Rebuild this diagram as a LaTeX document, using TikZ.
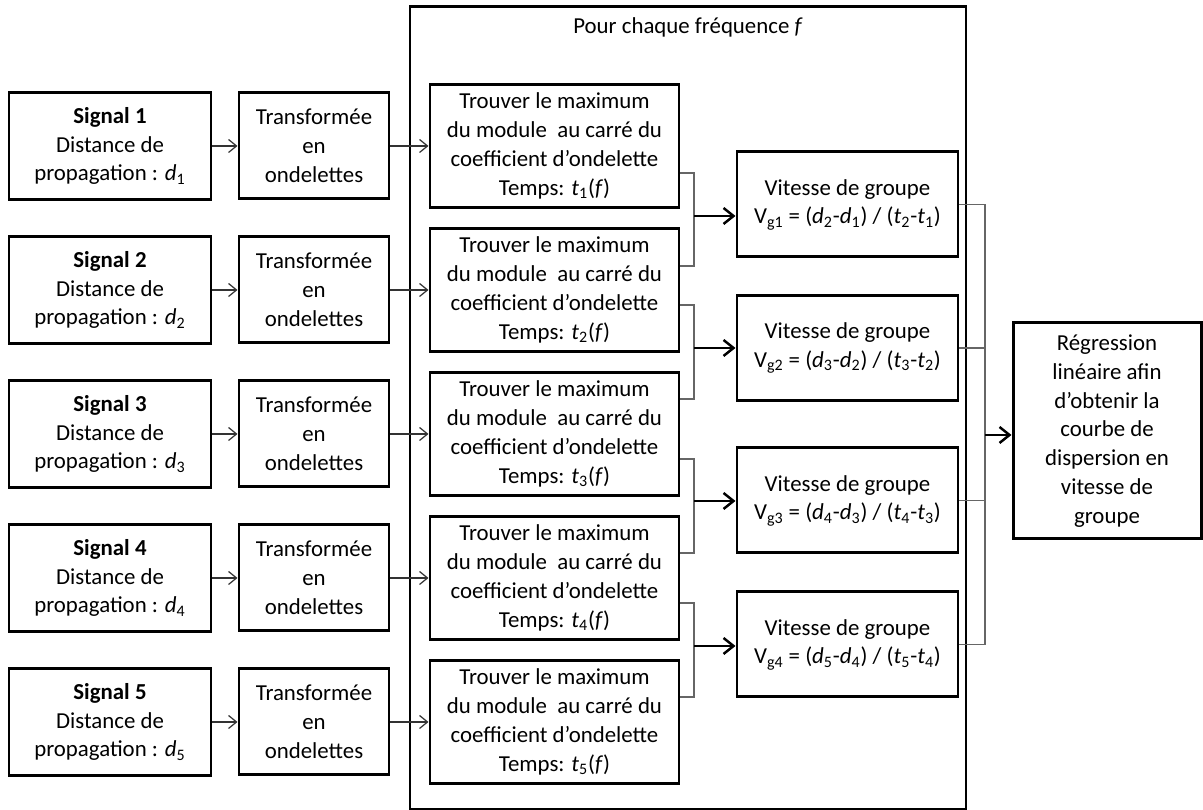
\documentclass[tikz,border=0pt]{standalone}
\usepackage{fontspec}
\setmainfont{Carlito}
\usetikzlibrary{arrows.meta,positioning,calc}

\begin{document}
\begin{tikzpicture}[
  font=\fontsize{13}{16.4}\selectfont,
  box/.style={draw, line width=1.7pt, align=center, inner sep=2pt},
  signalbox/.style={box, minimum width=4.04cm, minimum height=2.14cm},
  wavebox/.style={box, minimum width=3.0cm, minimum height=2.12cm},
  findbox/.style={box, minimum width=4.98cm, minimum height=2.46cm},
  speedbox/.style={box, minimum width=4.42cm, minimum height=2.1cm},
  thinarr/.style={draw=black!80, line width=0.7pt, -{Straight Barb[length=1.6mm,width=2.6mm]}},
  bigarr/.style={draw=black, line width=1.4pt, -{Straight Barb[length=2mm,width=3.2mm]}},
  gline/.style={draw=black!60, line width=0.8pt}
]
  \useasboundingbox (0,0) rectangle (24.06,16.2);

  % cadre "pour chaque frequence"
  \node[draw, line width=1.7pt, minimum width=11.12cm, minimum height=16.06cm] (freq) at (13.76,8.03) {};
  \node (title) at (13.76,15.66) {Pour chaque fréquence \textit{f}};

  % signaux
  \node[signalbox] (s1) at (2.2,13.28) {\textbf{Signal 1}\\Distance de\\propagation : \textit{d}\textsubscript{1}};
  \node[signalbox] (s2) at (2.2,10.40) {\textbf{Signal 2}\\Distance de\\propagation : \textit{d}\textsubscript{2}};
  \node[signalbox] (s3) at (2.2,7.52) {\textbf{Signal 3}\\Distance de\\propagation : \textit{d}\textsubscript{3}};
  \node[signalbox] (s4) at (2.2,4.64) {\textbf{Signal 4}\\Distance de\\propagation : \textit{d}\textsubscript{4}};
  \node[signalbox] (s5) at (2.2,1.76) {\textbf{Signal 5}\\Distance de\\propagation : \textit{d}\textsubscript{5}};

  % transformees
  \node[wavebox] (w1) at (6.28,13.28) {Transformée\\en\\ondelettes};
  \node[wavebox] (w2) at (6.28,10.40) {Transformée\\en\\ondelettes};
  \node[wavebox] (w3) at (6.28,7.52) {Transformée\\en\\ondelettes};
  \node[wavebox] (w4) at (6.28,4.64) {Transformée\\en\\ondelettes};
  \node[wavebox] (w5) at (6.28,1.76) {Transformée\\en\\ondelettes};

  % maxima
  \node[findbox] (f1) at (11.09,13.28) {Trouver le maximum\\du module\ \ au carré du\\coefficient d’ondelette\\Temps: \textit{t}\textsubscript{1}(\textit{f})};
  \node[findbox] (f2) at (11.09,10.40) {Trouver le maximum\\du module\ \ au carré du\\coefficient d’ondelette\\Temps: \textit{t}\textsubscript{2}(\textit{f})};
  \node[findbox] (f3) at (11.09,7.52) {Trouver le maximum\\du module\ \ au carré du\\coefficient d’ondelette\\Temps: \textit{t}\textsubscript{3}(\textit{f})};
  \node[findbox] (f4) at (11.09,4.64) {Trouver le maximum\\du module\ \ au carré du\\coefficient d’ondelette\\Temps: \textit{t}\textsubscript{4}(\textit{f})};
  \node[findbox] (f5) at (11.09,1.76) {Trouver le maximum\\du module\ \ au carré du\\coefficient d’ondelette\\Temps: \textit{t}\textsubscript{5}(\textit{f})};

  % vitesses de groupe
  \node[speedbox] (v1) at (16.95,12.11) {Vitesse de groupe\\V\textsubscript{g1} = (\textit{d}\textsubscript{2}-\textit{d}\textsubscript{1}) / (\textit{t}\textsubscript{2}-\textit{t}\textsubscript{1})};
  \node[speedbox] (v2) at (16.95,9.24) {Vitesse de groupe\\V\textsubscript{g2} = (\textit{d}\textsubscript{3}-\textit{d}\textsubscript{2}) / (\textit{t}\textsubscript{3}-\textit{t}\textsubscript{2})};
  \node[speedbox] (v3) at (16.95,6.19) {Vitesse de groupe\\V\textsubscript{g3} = (\textit{d}\textsubscript{4}-\textit{d}\textsubscript{3}) / (\textit{t}\textsubscript{4}-\textit{t}\textsubscript{3})};
  \node[speedbox] (v4) at (16.95,3.31) {Vitesse de groupe\\V\textsubscript{g4} = (\textit{d}\textsubscript{5}-\textit{d}\textsubscript{4}) / (\textit{t}\textsubscript{5}-\textit{t}\textsubscript{4})};

  % regression
  \node[box, minimum width=3.76cm, minimum height=4.32cm] (reg) at (22.14,7.58) {Régression\\linéaire afin\\d’obtenir la\\courbe de\\dispersion en\\vitesse de\\groupe};

  % fleches signal -> transformee -> maximum
  \draw[thinarr] (s1) -- (w1);
  \draw[thinarr] (s2) -- (w2);
  \draw[thinarr] (s3) -- (w3);
  \draw[thinarr] (s4) -- (w4);
  \draw[thinarr] (s5) -- (w5);
  \draw[thinarr] (w1) -- (f1);
  \draw[thinarr] (w2) -- (f2);
  \draw[thinarr] (w3) -- (f3);
  \draw[thinarr] (w4) -- (f4);
  \draw[thinarr] (w5) -- (f5);

  % accolades maxima -> vitesses
  \coordinate (j1) at (13.88,11.88);
  \coordinate (j2) at (13.88,9.24);
  \coordinate (j3) at (13.88,6.18);
  \coordinate (j4) at (13.88,3.28);
  \draw[gline] ([yshift=-5.4mm]f1.east) -| (j1) |- ([yshift=4.8mm]f2.east);
  \draw[gline] ([yshift=-3.0mm]f2.east) -| (j2) |- ([yshift=7.0mm]f3.east);
  \draw[gline] ([yshift=-5.0mm]f3.east) -| (j3) |- ([yshift=5.0mm]f4.east);
  \draw[gline] ([yshift=-5.0mm]f4.east) -| (j4) |- ([yshift=5.0mm]f5.east);
  \draw[bigarr] (j1) -- (j1 -| v1.west);
  \draw[bigarr] (j2) -- (j2 -| v2.west);
  \draw[bigarr] (j3) -- (j3 -| v3.west);
  \draw[bigarr] (j4) -- (j4 -| v4.west);

  % vitesses -> regression
  \coordinate (k) at (19.7,7.5);
  \draw[gline] (v1.east) -| (k) |- (v4.east);
  \draw[gline] (v2.east) -- (v2.east -| k);
  \draw[gline] (v3.east) -- (v3.east -| k);
  \draw[bigarr] (k) -- (k -| reg.west);
\end{tikzpicture}
\end{document}
